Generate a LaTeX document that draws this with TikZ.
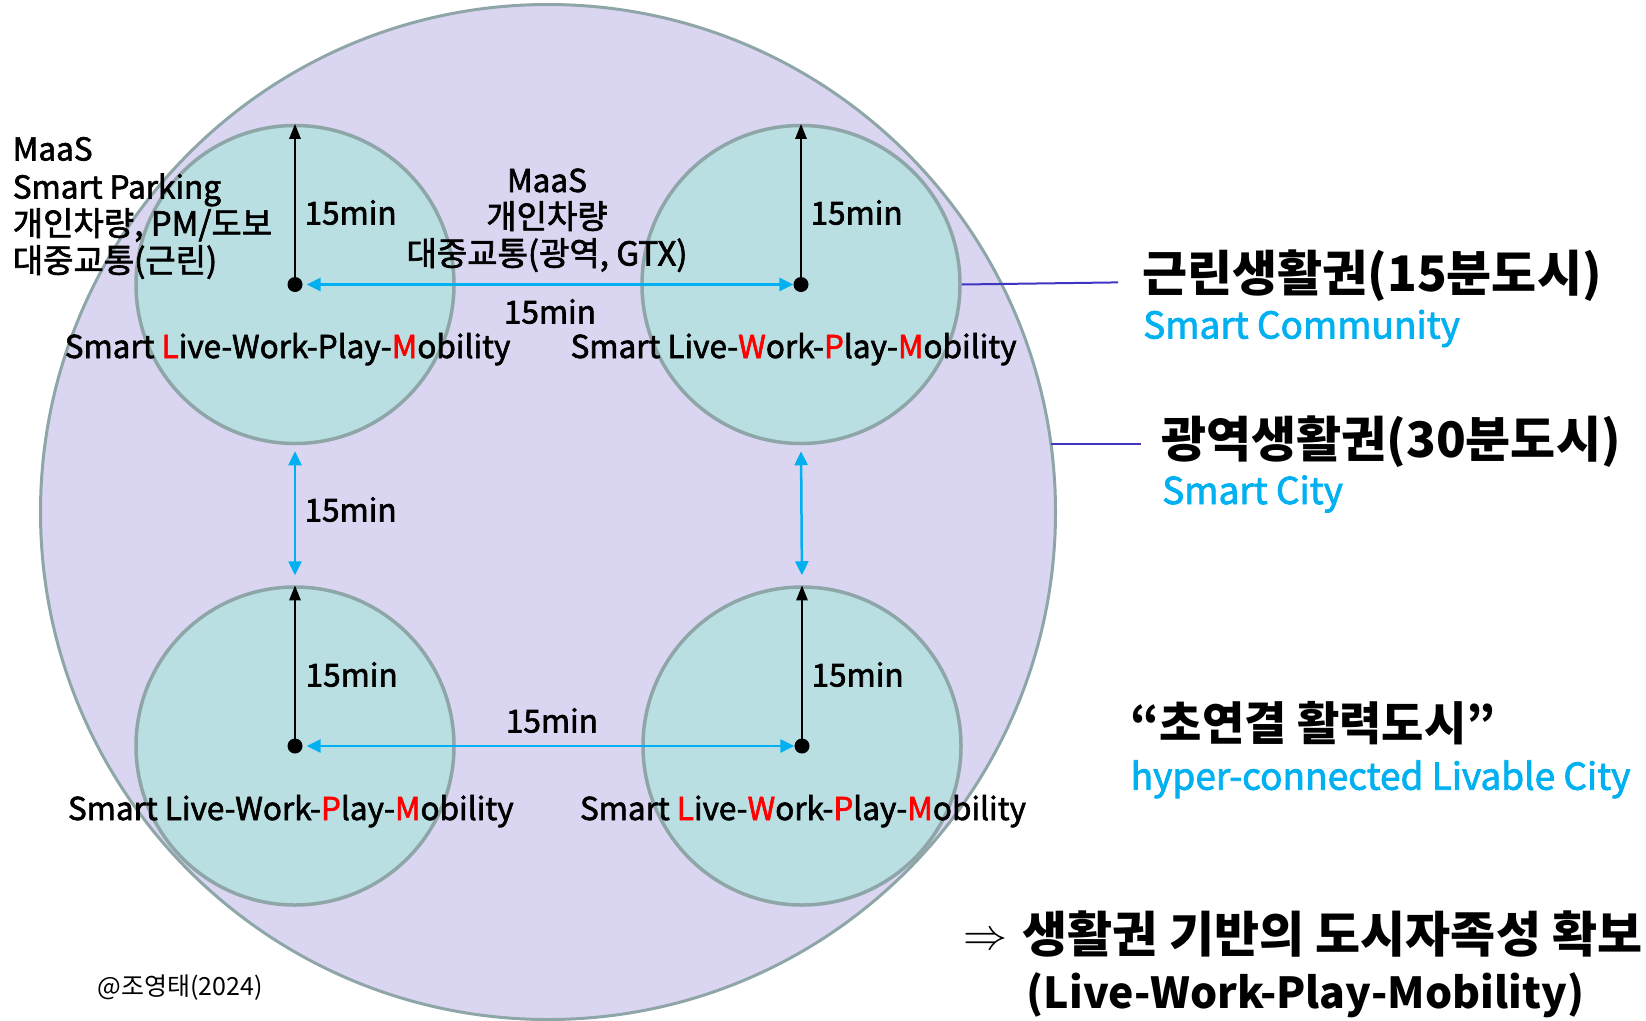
\documentclass[tikz,border=0pt]{standalone}
\usepackage{fontspec}
\usepackage{graphicx}
\setmainfont{Noto Sans CJK KR}
\newfontfamily\lblfont{Noto Sans CJK KR}[FakeBold=2]
\usetikzlibrary{arrows.meta}
\definecolor{lavfill}{HTML}{DAD6F2}
\definecolor{ringc}{HTML}{8EA6A8}
\definecolor{cellfill}{HTML}{B9DFE2}
\definecolor{skyc}{HTML}{00B0F0}
\definecolor{leadc}{HTML}{4035C0}
\definecolor{redc}{HTML}{FF0000}
\newcommand{\rd}[1]{\textcolor{redc}{#1}}
\begin{document}
\begin{tikzpicture}[x=1pt,y=-1pt,
  cell/.style={circle,draw=ringc,fill=cellfill,line width=3.5pt,minimum size=318pt,inner sep=0pt},
  dotc/.style={circle,fill=black,minimum size=15pt,inner sep=0pt},
  uparrow/.style={line width=2.5pt,-{Triangle[length=15pt,width=11pt]}},
  linkarrow/.style={draw=skyc,line width=2.5pt,{Triangle[length=14pt,width=13pt]}-{Triangle[length=14pt,width=13pt]}},
  lbl/.style={font=\lblfont\fontsize{31.5}{38}\selectfont,inner sep=0pt,anchor=base west},
  lblc/.style={font=\lblfont\fontsize{31.5}{38}\selectfont,inner sep=0pt,anchor=base},
  kor/.style={font=\lblfont\fontsize{33}{38}\selectfont},
  title/.style={font=\fontsize{49}{58}\selectfont\bfseries,inner sep=0pt,anchor=base west},
  subt/.style={font=\lblfont\fontsize{37}{44}\selectfont,text=skyc,inner sep=0pt,anchor=base west},
  lead/.style={draw=leadc,line width=2pt}
]
\useasboundingbox (0,0) rectangle (1646,1020);
\node[circle,draw=ringc,fill=lavfill,line width=3pt,minimum size=1015pt,inner sep=0pt] (city) at (548,512) {};
\node[cell] (TL) at (295,284.5) {};
\node[cell] (TR) at (801,284.5) {};
\node[cell] (BL) at (295,746) {};
\node[cell] (BR) at (802,746) {};
\node[dotc] (dTL) at (TL.center) {};
\node[dotc] (dTR) at (TR.center) {};
\node[dotc] (dBL) at (BL.center) {};
\node[dotc] (dBR) at (BR.center) {};
\draw[uparrow] (dTL.center) -- (TL.north);
\draw[uparrow] (dTR.center) -- (TR.north);
\draw[uparrow] (dBL.center) -- (BL.north);
\draw[uparrow] (dBR.center) -- (BR.north);
\draw[linkarrow,shorten <=4pt] (dTL.east) -- (dTR.west);
\draw[linkarrow,shorten <=4pt] (dBL.east) -- (dBR.west);
\draw[linkarrow,shorten <=6pt,shorten >=10pt] (TL.south) -- (BL.north);
\draw[linkarrow,shorten <=6pt,shorten >=10pt] (TR.south) -- (BR.north);
% leader lines
\coordinate (e1) at (1118,282.4);
\coordinate (e2s) at (1051,444);
\coordinate (e2) at (1141,444);
\draw[lead] (TR.east) -- (e1);
\draw[lead] (e2s) -- (e2);
% left block
\node[lbl] (a1) at (12.6,160.5) {MaaS};
\node[lbl] (a2) at (12.6,198.5) {Smart Parking};
\node[lbl,kor] (a3) at (12.6,235.5) {개인차량, PM/도보};
\node[lbl,kor] (a4) at (12.6,272.5) {대중교통(근린)};
% middle block
\node[lblc] (b1) at (547,192) {MaaS};
\node[lblc,kor] (b2) at (547,228.5) {개인차량};
\node[lblc,kor] (b3) at (547,265.5) {대중교통(광역, GTX)};
% 15min labels
\node[lbl] (t1) at (304.4,224.5) {15min};
\node[lbl] (t2) at (810.4,224.5) {15min};
\node[lbl] (t3) at (304.4,521.5) {15min};
\node[lbl] (t4) at (305.5,686.5) {15min};
\node[lbl] (t5) at (811.4,686.5) {15min};
\node[lblc] (t6) at (550,323.5) {15min};
\node[lblc] (t7) at (552,732.5) {15min};
% SLWPM labels
\node[lblc] (s1) at (287.6,358) {Smart \rd{L}ive-Work-Play-\rd{M}obility};
\node[lblc] (s2) at (793.6,358) {Smart Live-\rd{W}ork-\rd{P}lay-\rd{M}obility};
\node[lblc] (s3) at (290.8,820) {Smart Live-Work-\rd{P}lay-\rd{M}obility};
\node[lblc] (s4) at (803,820) {Smart \rd{L}ive-\rd{W}ork-\rd{P}lay-\rd{M}obility};
% right titles
\node[title] (h1) at (1142,291) {근린생활권(15분도시)};
\node[subt] (h1s) at (1143,338.5) {Smart Community};
\node[title] (h2) at (1161,457.8) {광역생활권(30분도시)};
\node[subt] (h2s) at (1162,504) {Smart City};
\node[title,font=\fontsize{46}{54}\selectfont\bfseries] (h3) at (1130.5,740) {“초연결 활력도시”};
\node[subt] (h3s) at (1130.5,789.7) {hyper-connected Livable City};
\node[title,font=\fontsize{49}{58}\selectfont\bfseries] (h4) at (963.6,952) {\raisebox{3pt}{\resizebox{44pt}{!}{$\Rightarrow$}}\hspace{15pt}생활권 기반의 도시자족성 확보};
\node[title,font=\fontsize{42.7}{52}\selectfont\bfseries] (h5) at (1026.6,1008) {(Live-Work-Play-Mobility)};
\node[lbl,font=\fontsize{25}{30}\selectfont] (cr) at (97.6,995) {@조영태(2024)};
\end{tikzpicture}
\end{document}
